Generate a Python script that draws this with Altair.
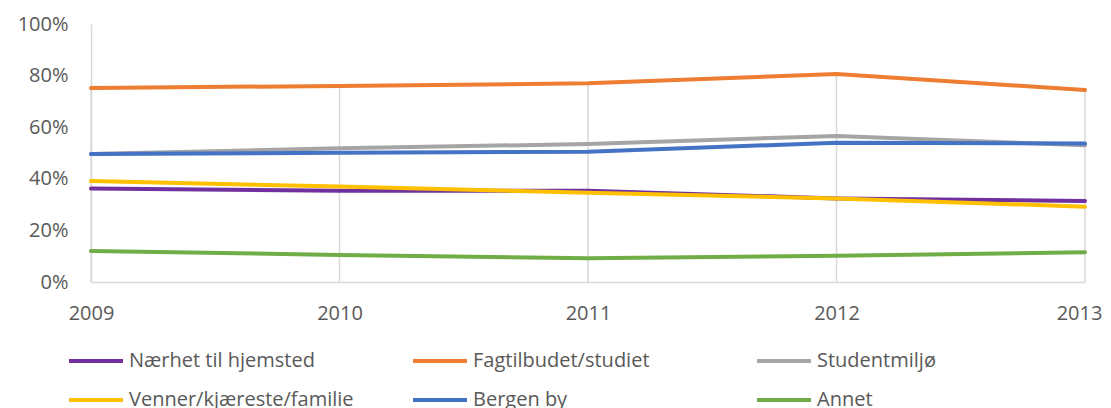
import altair as alt
import pandas as pd

years = [2009, 2010, 2011, 2012, 2013]
series_names = ["Nærhet til hjemsted", "Fagtilbudet/studiet", "Studentmiljø",
                "Venner/kjæreste/familie", "Bergen by", "Annet"]
colors = ["#7030A0", "#ED7D31", "#A5A5A5", "#FFC000", "#4472C4", "#70AD47"]

naerhet = [0.362, 0.354, 0.354, 0.324, 0.314]
fagtilbud = [0.752, 0.760, 0.770, 0.806, 0.744]
studentmiljo = [0.496, 0.518, 0.535, 0.566, 0.530]
venner = [0.391, 0.370, 0.346, 0.324, 0.292]
bergen = [0.496, 0.501, 0.505, 0.540, 0.537]
annet = [0.120, 0.105, 0.092, 0.102, 0.115]

values = [naerhet, fagtilbud, studentmiljo, venner, bergen, annet]

rows = []
for name, vals in zip(series_names, values):
    for yr, v in zip(years, vals):
        rows.append({"year": yr, "series": name, "value": v})
df = pd.DataFrame(rows)

# legend is laid out column by column: reorder so rows read as in the reference
legend_order = [0, 3, 1, 4, 2, 5]
legend_domain = [series_names[i] for i in legend_order]
legend_range = [colors[i] for i in legend_order]

FONT = "Open Sans, sans-serif"
TXT = "#595959"
GRID = "#D9D9D9"

x = alt.X("year:Q", scale=alt.Scale(domain=[2009, 2013], nice=False),
          axis=alt.Axis(values=years, format="d", title=None, grid=False, ticks=False,
                        domainColor=GRID, domainWidth=1.5, labelFontSize=20,
                        labelColor=TXT, labelFont=FONT, labelPadding=21,
                        labelFlush=False,
                        labelOffset=alt.ConditionalAxisNumber(
                            condition={"test": "datum.value == 2013", "value": -6},
                            value=0)))
y_axis = alt.Axis(values=[0, 0.2, 0.4, 0.6, 0.8, 1.0], format=".0%", title=None,
                  grid=False, ticks=False, domainColor=GRID, domainWidth=1.5,
                  labelFontSize=20, labelColor=TXT, labelFont=FONT, labelPadding=23)

drops = alt.Chart(df).transform_aggregate(
    top="max(value)", groupby=["year"]
).transform_calculate(zero="0").mark_rule(color=GRID, strokeWidth=1.5).encode(
    x=x,
    y=alt.Y("top:Q", scale=alt.Scale(domain=[0, 1]), axis=y_axis),
    y2="zero:Q",
)

lines = alt.Chart(df).mark_line(strokeWidth=4, strokeCap="round").encode(
    x=x,
    y=alt.Y("value:Q", scale=alt.Scale(domain=[0, 1]), axis=y_axis),
    color=alt.Color("series:N", scale=alt.Scale(domain=legend_domain, range=legend_range),
                    legend=alt.Legend(title=None, orient="none", legendX=-24, legendY=308,
                                      columns=3, symbolType="stroke", symbolSize=2916,
                                      symbolStrokeWidth=4, labelFontSize=20,
                                      labelColor=TXT, labelFont=FONT, labelOffset=4,
                                      gridAlign="all", columnPadding=51, rowPadding=-14,
                                      padding=0, labelLimit=400)),
)

chart = alt.layer(drops, lines).properties(
    width=994, height=258,
    autosize=alt.AutoSizeParams(type="none"),
    padding={"left": 83, "top": 16, "right": 18, "bottom": 126},
).configure_view(stroke=None)

chart.save("out.html", embed_options={"renderer": "svg", "actions": False})
